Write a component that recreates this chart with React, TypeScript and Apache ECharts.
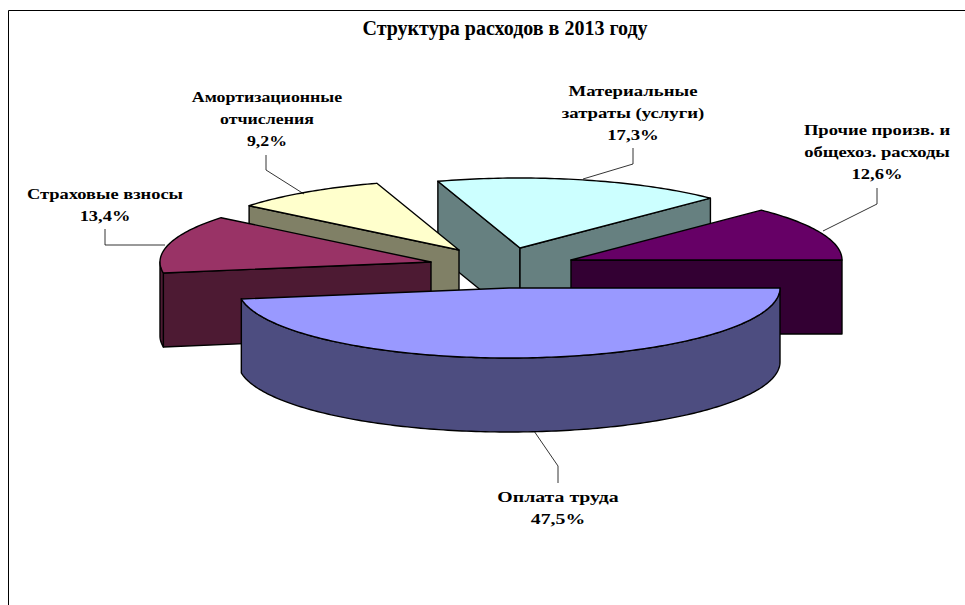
import React, { useEffect, useRef } from "react";
import * as echarts from "echarts";

const chartTitle = "Структура расходов в 2013 году";
const categories = [
  "Оплата труда",
  "Страховые взносы",
  "Амортизационные\nотчисления",
  "Материальные\nзатраты (услуги)",
  "Прочие произв. и\nобщехоз. расходы",
];
const shares = [47.5, 13.4, 9.2, 17.3, 12.6];
const topColors = ["#9999FF", "#993366", "#FFFFCC", "#CCFFFF", "#660066"];
const wallColors = ["#4D4D80", "#4D1A33", "#808066", "#668080", "#330033"];

// layout (not data)
const apexes = [[509, 288], [431, 262], [459, 250], [520, 248], [571, 260]];
const labelCentres = [[558, 508], [105, 205], [267, 119], [633, 113], [877, 152]];
const labelScales = [1.32, 1.23, 1.19, 1.25, 1.24];
const leaders = [
  [[534, 431], [558, 466], [558, 483]],
  [[105, 229], [105, 245], [165, 245]],
  [[266, 155], [266, 170], [304, 194]],
  [[633, 148], [633, 164], [583, 179]],
  [[877, 188], [877, 204], [823, 231]],
];
const paintOrder = [3, 2, 4, 1, 0];
const RX = 271, RY = 70, DEPTH = 74;

const total = shares.reduce((a, b) => a + b, 0);
const starts: number[] = [];
shares.reduce((acc, v, i) => { starts[i] = acc; return acc + v; }, 0);

const rad = (d: number) => (d * Math.PI) / 180;
const rim = (c: number[], t: number, dz = 0) => [
  c[0] + RX * Math.cos(rad(t)),
  c[1] + RY * Math.sin(rad(t)) + dz,
];

function renderSlice(params: any, api: any) {
  const i = api.value(0);
  const t0 = (api.value(1) / total) * 360;
  const t1 = t0 + (api.value(2) / total) * 360;
  const c = apexes[i];
  const line = { stroke: "#000", lineWidth: 1.4, lineJoin: "round" };
  const children: any[] = [];
  const poly = (points: number[][], fill: string) =>
    children.push({ type: "polygon", shape: { points }, style: { fill, ...line } });

  const ts: number[] = [];
  for (let t = t0; t < t1; t += 1) ts.push(t);
  ts.push(t1);

  if (Math.cos(rad(t0)) < 0) {
    const a = rim(c, t0);
    poly([c, a, [a[0], a[1] + DEPTH], [c[0], c[1] + DEPTH]], wallColors[i]);
  }
  if (Math.cos(rad(t1)) > 0) {
    const a = rim(c, t1);
    poly([c, a, [a[0], a[1] + DEPTH], [c[0], c[1] + DEPTH]], wallColors[i]);
  }
  const front = ts.filter((t) => Math.sin(rad(t)) >= -1e-9);
  if (front.length > 1) {
    poly(
      [...front.map((t) => rim(c, t)), ...front.slice().reverse().map((t) => rim(c, t, DEPTH))],
      wallColors[i]
    );
  }
  poly([c, ...ts.map((t) => rim(c, t))], topColors[i]);

  children.push({
    type: "polyline",
    shape: { points: leaders[i] },
    style: { fill: "none", stroke: "#000", lineWidth: 0.8 },
  });
  children.push({
    type: "text",
    x: labelCentres[i][0],
    y: labelCentres[i][1],
    scaleX: labelScales[i],
    style: {
      text: `${categories[i]}\n${String(shares[i]).replace(".", ",")}%`,
      fontFamily: "Liberation Serif",
      fontWeight: "bold",
      fontSize: 15,
      lineHeight: 22,
      fill: "#000",
      align: "center",
      verticalAlign: "middle",
    },
  });
  return { type: "group", children };
}

export default function App() {
  const ref = useRef<HTMLDivElement>(null);
  useEffect(() => {
    document.body.style.margin = "0";
    const chart = echarts.init(ref.current!, null, { renderer: "svg" });
    chart.setOption({
      animation: false,
      backgroundColor: "#fff",
      title: {
        text: chartTitle,
        left: 500,
        top: 13,
        textAlign: "center",
        textStyle: { fontFamily: "Liberation Serif", fontWeight: "bold", fontSize: 20, color: "#000" },
      },
      graphic: [
        {
          type: "rect",
          shape: { x: 8.5, y: 10.5, width: 1000, height: 700 },
          style: { fill: "none", stroke: "#000", lineWidth: 1 },
          silent: true,
        },
      ],
      series: [
        {
          type: "custom",
          coordinateSystem: "none",
          renderItem: renderSlice,
          clip: false,
          data: paintOrder.map((i) => [i, starts[i], shares[i]]),
        },
      ],
    });
    return () => chart.dispose();
  }, []);
  return <div ref={ref} style={{ position: "absolute", left: 0, top: 0, width: 965, height: 605 }} />;
}
